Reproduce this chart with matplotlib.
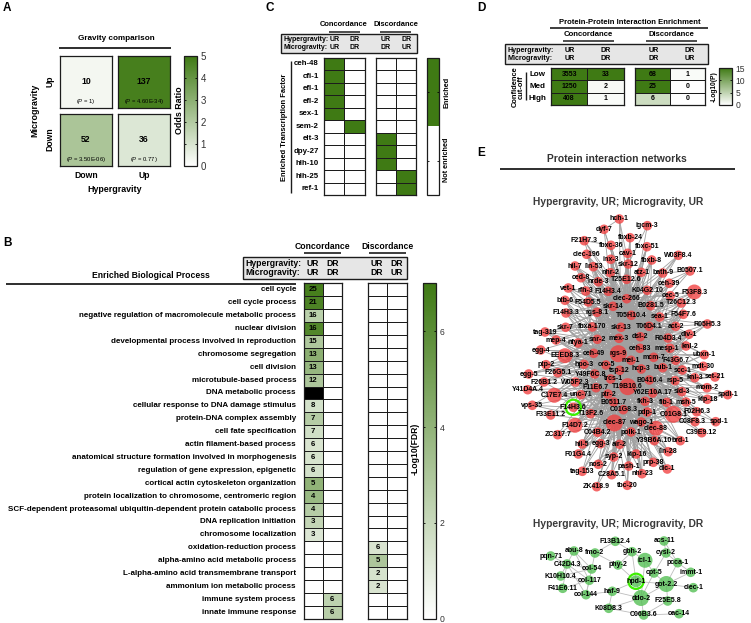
"""Gravity comparison figure: enrichment heatmaps and protein interaction networks."""

import matplotlib
matplotlib.use("Agg")
import matplotlib.pyplot as plt
from matplotlib.collections import LineCollection
from matplotlib.colors import LinearSegmentedColormap, ListedColormap, Normalize
import numpy as np

W, H = 751, 623

plt.rcParams['font.family'] = ['Liberation Sans', 'DejaVu Sans']
plt.rcParams['mathtext.fontset'] = 'custom'
plt.rcParams['mathtext.rm'] = 'Liberation Sans'
plt.rcParams['mathtext.it'] = 'Liberation Sans:italic'
plt.rcParams['mathtext.default'] = 'regular'

GREEN = '#3f7a14'
DARK = '#1c1c1c'

# panel A
a_counts = [['10', '137'], ['52', '36']]
a_pvals = [['1', '4.60E-34'], ['3.50E-06', '0.77']]
a_odds = [[0.3, 4.8], [2.2, 0.9]]

# panel B
b_terms = [
    'cell cycle', 'cell cycle process', 'negative regulation of macromolecule metabolic process',
    'nuclear division', 'developmental process involved in reproduction', 'chromosome segregation',
    'cell division', 'microtubule-based process', 'DNA metabolic process',
    'cellular response to DNA damage stimulus', 'protein-DNA complex assembly', 'cell fate specification',
    'actin filament-based process', 'anatomical structure formation involved in morphogenesis',
    'regulation of gene expression, epigenetic', 'cortical actin cytoskeleton organization',
    'protein localization to chromosome, centromeric region',
    'SCF-dependent proteasomal ubiquitin-dependent protein catabolic process',
    'DNA replication initiation', 'chromosome localization', 'oxidation-reduction process',
    'alpha-amino acid metabolic process', 'L-alpha-amino acid transmembrane transport',
    'ammonium ion metabolic process', 'immune system process', 'innate immune response',
]
b_counts_ur = ['25', '21', '16', '16', '15', '13', '13', '12', '', '8', '7', '7', '6', '6', '6', '5', '4', '4',
               '3', '3', '', '', '', '', '', '']
b_fdr_ur = [6.7, 6.5, 2.5, 6.3, 2.9, 4.2, 3.8, 3.0, np.nan, 1.6, 2.7, 1.7, 1.4, 1.5, 1.6, 4.0, 3.7, 2.7,
            2.2, 1.3, 0, 0, 0, 0, 0, 0]
b_counts_dr = [''] * 24 + ['6', '6']
b_fdr_dr = [0] * 24 + [2.4, 2.6]
b_counts_disc = [''] * 20 + ['6', '5', '2', '2', '', '']
b_fdr_disc = [0] * 20 + [1.4, 3.0, 1.5, 1.4, 0, 0]

# panel C
c_factors = ['ceh-48', 'cfi-1', 'efl-1', 'efl-2', 'sex-1', 'sem-2', 'elt-3', 'dpy-27', 'hlh-10', 'hlh-25', 'ref-1']
c_conc_ur = [1, 1, 1, 1, 1, 0, 0, 0, 0, 0, 0]
c_conc_dr = [0, 0, 0, 0, 0, 1, 0, 0, 0, 0, 0]
c_disc_ur = [0, 0, 0, 0, 0, 0, 1, 1, 1, 0, 0]
c_disc_dr = [0, 0, 0, 0, 0, 0, 0, 0, 0, 1, 1]

# panel D
d_levels = ['Low', 'Med', 'High']
d_conc_counts = [['3553', '33'], ['1250', '2'], ['408', '1']]
d_conc_logp = [[15, 15], [15, 0.7], [15, 0.5]]
d_disc_counts = [['68', '1'], ['25', '0'], ['6', '0']]
d_disc_logp = [[15, 0.5], [15, 0], [4, 0]]

# panel E, upregulated network, positions
red_names = ['hch-1', 'dyf-7', 'igcm-3', 'F21H7.3', 'fbxb-24', 'fbxc-36', 'fbxc-51', 'clec-196', 'cav-1', 'inx-3',
             'fbxb-8', 'W03F8.4', 'hil-7', 'lin-53', 'skr-12', 'nhr-2', 'atz-1', 'bath-9', 'B0507.1', 'ced-8',
             'nrde-3', 'T25E12.6', 'ceh-39', 'vet-1', 'rfh-3', 'F14H3.4', 'K04G2.10', 'F53F8.3', 'clec-266', 'cec-5',
             'btb-6', 'F54D5.5', 'skr-14', 'B0281.5', 'T26C12.3', 'F14H3.3', 'rgs-8.1', 'T05H10.4', 'sea-1', 'F54F7.6',
             'R05H5.3', 'skr-7', 'fbxa-170', 'skr-13', 'T06D4.1', 'act-2', 'tag-319', 'mep-4', 'nfya-1', 'snr-2',
             'mex-3', 'dsl-2', 'R04D3.4', 'div-1', 'egg-4', 'EEED8.3', 'ceh-49', 'rgs-9', 'ceh-83', 'mesp-1',
             'knl-2', 'ubxn-1', 'ptp-2', 'hpo-3', 'oro-5', 'mei-1', 'mcm-7', 'F43G6.7', 'mdt-30', 'egg-5',
             'F26G5.1', 'Y49F6C.8', 'tsp-12', 'hcp-3', 'bub-1', 'scc-1', 'knl-3', 'set-21', 'F26B1.2', 'W05F2.3',
             'trcs-1', 'B0416.4', 'rsp-5', 'mom-2', 'Y41D4A.4', 'C17E7.4', 'F11E6.7', 'unc-71', 'T19B10.6', 'ptr-2',
             'Y62E10A.17', 'sld-3', 'spdl-1', 'klp-18', 'vps-35', 'B0511.7', 'fkh-3', 'fib-1', 'msh-5', 'F14H3.6',
             'F33E11.2', 'T13F2.6', 'C01G8.3', 'pdp-1', 'C01G8.1', 'F02H6.3', 'C08F8.3', 'spd-1', 'F14D7.2', 'clec-87',
             'wago-1', 'clec-88', 'ZC317.7', 'C04B4.2', 'polk-1', 'C39E9.12', 'Y39B6A.10', 'brd-1', 'hil-5', 'egg-3',
             'air-2', 'lin-28', 'F01G4.4', 'syp-2', 'klp-16', 'nos-2', 'prp-38', 'dlc-1', 'tag-153', 'pash-1',
             'C28A5.1', 'nhr-23', 'ZK418.9', 'tbc-20']
red_x = [619.3, 604, 647.3, 584.3, 630, 611, 647, 586.7, 627.7, 610.7,
         651.7, 678.3, 575, 593.3, 628.3, 610.3, 641.3, 662.7, 690, 581,
         598.3, 626.7, 669.3, 568.3, 585.7, 608.3, 647.3, 694.3, 626.7, 670.3,
         565, 588.3, 613, 650.7, 681.3, 566, 597, 631.3, 659.7, 683.3,
         707.3, 565.7, 592.3, 621, 649, 675.7, 545, 556, 578, 597.3,
         619, 640.3, 668, 689, 540.7, 565, 593.7, 618.3, 640, 670,
         686, 704.3, 546, 584, 606, 631, 653.7, 675.7, 703.3, 528.7,
         557.7, 594.7, 619.7, 641.3, 662.7, 682.3, 694.7, 715, 544, 575.3,
         610.7, 649.3, 675, 707, 527.7, 554.3, 596, 581, 627.7, 608,
         652.7, 681.7, 727.7, 707.3, 532.3, 613.7, 645, 666.7, 686, 573.3,
         550.7, 590.7, 623.3, 647.3, 673.3, 696.7, 695, 715.7, 575, 614.3,
         641.3, 656, 557.7, 597.7, 631, 701.7, 654.3, 680.3, 582.3, 600.7,
         619.7, 668.3, 578.3, 613.7, 636.3, 598.3, 653.3, 667.3, 582.3, 628.7,
         611.7, 642, 596.7, 627.3]
red_y = [219, 229.3, 225.7, 240.7, 237.7, 245.3, 246.7, 254.3, 253.3, 259.3,
         260, 255.3, 266, 266.7, 264, 272.7, 272.3, 273, 271, 277.7,
         281.7, 279.3, 283.3, 288, 291, 291.3, 290.3, 292, 298.7, 295.7,
         300.3, 302, 306.3, 305.7, 303, 313, 312.3, 315.3, 317, 314.3,
         324, 327.3, 327, 327.3, 326.3, 326.3, 332, 340, 343, 339.3,
         338.3, 336.7, 338, 334.3, 350, 355.7, 353.3, 353.7, 348.3, 348.3,
         346, 354.7, 364.7, 364.3, 365, 360.3, 357.3, 360.3, 366.3, 374,
         372.7, 374, 370.3, 369, 367.7, 370, 377.7, 377, 382, 382,
         379, 380, 380.7, 387.7, 389.7, 395.3, 387.7, 394.7, 386.7, 394,
         393, 391.7, 394.7, 399.3, 405.3, 402, 401.3, 402.3, 402, 407.3,
         415, 413.7, 409.7, 412, 414.3, 411.7, 421.7, 421.7, 425.3, 423,
         422, 428.3, 434.7, 432.3, 432, 432.7, 440.7, 440.7, 444, 443.7,
         444.3, 451.7, 454, 457, 454, 464.3, 462.3, 469, 471.3, 466,
         474.7, 473.7, 486.7, 485.3]
red_large = {'F53F8.3': 7.5, 'EEED8.3': 7.5, 'rgs-9': 8.5, 'T19B10.6': 8.5, 'C17E7.4': 7.5, 'C01G8.1': 8.5,
             'F14D7.2': 7.5, 'clec-87': 8.5, 'clec-88': 7.5}
red_hubs = ['rgs-9', 'T19B10.6', 'clec-87', 'mcm-7', 'B0416.4', 'ceh-49', 'T05H10.4', 'tsp-12', 'C01G8.3', 'hcp-3',
            'skr-13', 'mex-3', 'wago-1', 'polk-1', 'ptr-2', 'oro-5', 'mei-1', 'B0511.7', 'trcs-1', 'dsl-2',
            'ceh-83', 'clec-266', 'skr-14', 'T06D4.1']
red_hub_reach = [130, 130, 85, 75, 70, 70, 95, 75, 70, 60, 85, 60, 55, 55, 60, 60, 70, 60, 60, 60,
                 60, 75, 55, 55]

# panel E, discordant network
green_names = ['F13B12.4', 'acs-11', 'abu-8', 'fmo-2', 'gbh-2', 'cysl-2', 'pqn-71', 'icl-1', 'C42D4.3', 'phy-2',
               'pcca-1', 'col-54', 'cpt-5', 'immt-1', 'K10H10.4', 'col-117', 'hpd-1', 'got-2.2', 'F41E6.11', 'clec-1',
               'haf-9', 'col-144', 'ddo-2', 'F25E5.8', 'K08D8.3', 'oac-14', 'C06B3.6']
green_x = [615.3, 664, 574, 595, 632, 666, 550.7, 645, 567, 618,
           677.7, 591.7, 654, 690.7, 560.7, 589.3, 636, 666.3, 562.7, 693.3,
           612.3, 586, 641, 667.7, 608.7, 679, 643.7]
green_y = [541.3, 541, 551, 553, 551.7, 553, 556, 560.3, 564, 565,
           562.7, 569, 573, 572.3, 576, 580.3, 581.3, 584, 588.3, 587.7,
           591.3, 594.7, 598, 601, 608.3, 613.7, 615]
green_large = {'icl-1': 7.5, 'got-2.2': 8, 'ddo-2': 8, 'hpd-1': 6}
green_edges = [('pqn-71', 'C42D4.3'), ('abu-8', 'C42D4.3'), ('abu-8', 'col-54'), ('abu-8', 'col-117'),
               ('C42D4.3', 'col-54'), ('C42D4.3', 'col-117'), ('K10H10.4', 'C42D4.3'), ('K10H10.4', 'col-117'),
               ('K10H10.4', 'col-54'), ('F41E6.11', 'col-117'), ('F41E6.11', 'C42D4.3'), ('col-144', 'col-117'),
               ('col-144', 'C42D4.3'), ('col-144', 'col-54'), ('col-54', 'fmo-2'), ('fmo-2', 'F13B12.4'),
               ('F13B12.4', 'gbh-2'), ('gbh-2', 'icl-1'), ('gbh-2', 'hpd-1'), ('phy-2', 'hpd-1'), ('phy-2', 'fmo-2'),
               ('phy-2', 'gbh-2'), ('icl-1', 'cpt-5'), ('cysl-2', 'cpt-5'), ('cysl-2', 'pcca-1'), ('acs-11', 'pcca-1'),
               ('acs-11', 'cysl-2'), ('pcca-1', 'got-2.2'), ('immt-1', 'got-2.2'), ('immt-1', 'pcca-1'),
               ('cpt-5', 'got-2.2'), ('hpd-1', 'ddo-2'), ('hpd-1', 'got-2.2'), ('got-2.2', 'ddo-2'), ('haf-9', 'hpd-1'),
               ('haf-9', 'col-144'), ('haf-9', 'ddo-2'), ('K08D8.3', 'ddo-2'), ('ddo-2', 'C06B3.6'),
               ('C06B3.6', 'F25E5.8'), ('C06B3.6', 'oac-14'), ('F25E5.8', 'got-2.2'), ('clec-1', 'got-2.2'),
               ('ddo-2', 'icl-1'), ('K08D8.3', 'haf-9'), ('ddo-2', 'cpt-5'), ('K08D8.3', 'C06B3.6')]

# small sideways shifts so neighbouring gene names do not run into each other
label_shift = {'mesp-1': -3, 'knl-2': 3.5, 'C08F8.3': -3, 'spd-1': 3.5, 'Y49F6C.8': -4, 'trcs-1': 3}

fig = plt.figure(figsize=(W / 100, H / 100), dpi=100)
cmap = LinearSegmentedColormap.from_list('wg', ['white', GREEN])
cmap.set_bad('black')


def px_axes(x0, y0, x1, y1):
    """Axes placed by picture pixels."""
    return fig.add_axes([x0 / W, 1 - y1 / H, (x1 - x0) / W, (y1 - y0) / H])


page = px_axes(0, 0, W, H)
page.set_xlim(0, W)
page.set_ylim(H, 0)
page.axis('off')


def label(x, y, s, size=6, weight='bold', ha='center', va='center', rot=0, color='black'):
    page.text(x, y, s, fontsize=size, fontweight=weight, ha=ha, va=va, rotation=rot, color=color)


def rule(x0, y0, x1, y1, lw=1.2, color=DARK):
    page.plot([x0, x1], [y0, y1], color=color, lw=lw, solid_capstyle='butt')


def heat_block(box, values, texts=None, cm=cmap, vmax=7, size=5.5):
    """One block of cells with black grid lines."""
    ax = px_axes(*box)
    values = np.ma.masked_invalid(np.array(values, dtype=float))
    ax.pcolormesh(values, cmap=cm, norm=Normalize(0, vmax), edgecolors=DARK, linewidth=0.6)
    ax.set_ylim(values.shape[0], 0)
    ax.set_xticks([])
    ax.set_yticks([])
    for s in ax.spines.values():
        s.set_linewidth(0.9)
        s.set_color(DARK)
    if texts is not None:
        for r, row in enumerate(texts):
            for c, t in enumerate(row):
                ax.text(c + 0.5, r + 0.5, t, ha='center', va='center', fontsize=size, fontweight='bold')
    return ax


def color_bar(box, cm, vmax, ticks, size=6.5, labelled=True):
    ax = px_axes(*box)
    sm = plt.cm.ScalarMappable(norm=Normalize(0, vmax), cmap=cm)
    cb = fig.colorbar(sm, cax=ax, ticks=ticks)
    cb.outline.set_linewidth(0.9)
    cb.outline.set_edgecolor(DARK)
    ax.tick_params(axis='y', direction='in', left=True, right=True, length=1.5, width=0.6, pad=2.5,
                   labelsize=size, labelcolor='#333333', labelright=labelled)
    return ax


def header_box(x0, y0, x1, y1, left, xs, size=6):
    """Grey box with the hyper/microgravity direction rows."""
    page.add_patch(plt.Rectangle((x0, y0), x1 - x0, y1 - y0, fc='#e6e6e6', ec=DARK, lw=1.0))
    y_a = y0 + (y1 - y0) * 0.30
    y_b = y0 + (y1 - y0) * 0.72
    label(left, y_a, 'Hypergravity:', size, ha='left')
    label(left, y_b, 'Microgravity:', size, ha='left')
    for x, top, bottom in zip(xs, ['UR', 'DR', 'UR', 'DR'], ['UR', 'DR', 'DR', 'UR']):
        label(x, y_a, top, size, weight='semibold')
        label(x, y_b, bottom, size, weight='semibold')


def network(names, xs, ys, edges, large, node_color, alpha, focus, edge_lw, edge_color):
    """Nodes and edges in picture pixels on the page axes."""
    pos = {n: (x, y) for n, x, y in zip(names, xs, ys)}
    segs = [(pos[a], pos[b]) for a, b in edges]
    page.add_collection(LineCollection(segs, colors=edge_color, linewidths=edge_lw, zorder=1))
    radius = np.array([large.get(n, 4.8) for n in names])
    page.scatter(xs, ys, s=(radius * 1.44) ** 2, color=node_color, alpha=alpha, lw=0, zorder=2)
    fx, fy = pos[focus]
    page.scatter([fx], [fy], s=120, facecolors='none', edgecolors='#3cf000', lw=1.6, zorder=3)
    for n, x, y in zip(names, xs, ys):
        page.text(x + label_shift.get(n, 0), y, n, fontsize=5.0, fontweight='bold', ha='center', va='center', zorder=4)


# panel letters
for letter, lx, ly in [('A', 7, 8), ('B', 7, 243), ('C', 270, 8), ('D', 481, 8), ('E', 481, 153)]:
    label(lx, ly, letter, 8.5)

# panel A
label(116, 39, 'Gravity comparison', 5.9)
rule(59, 48, 171, 48, 1.3)
a_cells = [(60, 56, 112, 108), (118, 56, 170, 108), (60, 114, 112, 166), (118, 114, 170, 166)]
for i, box in enumerate(a_cells):
    r, c = i // 2, i % 2
    ax = heat_block(box, [[a_odds[r][c]]], cm=cmap, vmax=5)
    ax.text(0.5, 0.5, a_counts[r][c], ha='center', va='center', fontsize=6.2, fontweight='bold')
    ax.text(0.5, 0.88, r'($\mathit{P}$ = %s)' % a_pvals[r][c], ha='center', va='center', fontsize=4.2)
color_bar((184, 56, 197, 166), cmap, 5, [0, 1, 2, 3, 4, 5], size=7)
label(179, 110, 'Odds Ratio', 6.4, rot=90)
label(86, 176, 'Down', 6.2)
label(144, 176, 'Up', 6.2)
label(115, 190, 'Hypergravity', 6.4)
label(50, 81, 'Up', 6.2, rot=90)
label(50, 139, 'Down', 6.2, rot=90)
label(35, 110, 'Microgravity', 6.4, rot=90)

# panel B
label(322, 246.5, 'Concordance', 6.2)
rule(304, 253, 341, 253, 1.2)
label(387, 246.5, 'Discordance', 6.2)
rule(369, 253, 406, 253, 1.2)
header_box(242.5, 257, 406.5, 279, 245.5, [313, 333, 377, 397], size=6.2)
label(151, 276, 'Enriched Biological Process', 6.2)
rule(6, 283.7, 296, 283.7, 1.3)
b_left = np.array([b_fdr_ur, b_fdr_dr]).T
b_left_text = list(zip(b_counts_ur, b_counts_dr))
heat_block((303.5, 283.3, 342, 618.7), b_left, b_left_text, vmax=7, size=5.6)
b_right = np.array([b_fdr_disc, [0] * 26]).T
b_right_text = [(t, '') for t in b_counts_disc]
heat_block((368, 283.3, 406.5, 618.7), b_right, b_right_text, vmax=7, size=5.6)
for i, term in enumerate(b_terms):
    label(296, 283.3 + (i + 0.5) * 12.9, term, 5.8, ha='right')
color_bar((422.7, 283.3, 436, 618.7), cmap, 7, [0, 2, 4, 6], size=6.2)
label(415, 449, '-Log10(FDR)', 6.2, rot=90)

# panel C
label(343.5, 25, 'Concordance', 5.4)
rule(329, 31.5, 360, 31.5, 1.1)
label(396, 25, 'Discordance', 5.4)
rule(380, 31.5, 411, 31.5, 1.1)
header_box(281, 34, 416.5, 53, 283, [335, 355, 386, 407], size=5.0)
label(284, 127, 'Enriched Transcription Factor', 5.4, rot=90, weight='semibold')
rule(290.5, 61, 290.5, 193, 1.0)
two_tone = ListedColormap(['white', GREEN])
heat_block((324, 57.7, 364.5, 195), np.array([c_conc_ur, c_conc_dr]).T, cm=two_tone, vmax=1)
heat_block((375.5, 57.7, 416, 195), np.array([c_disc_ur, c_disc_dr]).T, cm=two_tone, vmax=1)
for i, factor in enumerate(c_factors):
    label(319, 57.7 + (i + 0.5) * 137.3 / 11, factor, 5.7, ha='right')
color_bar((427, 57.7, 438.7, 195), two_tone, 1, [0.25, 0.75], labelled=False)
label(447, 92, 'Enriched', 5.2, rot=90)
label(447, 160, 'Not enriched', 5.2, rot=90)

# panel D
label(630, 22, 'Protein-Protein Interaction Enrichment', 5.5)
rule(550, 28, 708, 28, 1.2)
label(588, 34.5, 'Concordance', 5.6)
rule(563, 41, 614, 41, 1.1)
label(671, 35, 'Discordance', 5.5)
rule(646, 41, 697, 41, 1.1)
header_box(505, 44, 708, 64, 507.5, [570, 606, 654, 690], size=5.1)
heat_block((551, 68, 623.5, 105), d_conc_logp, d_conc_counts, vmax=15, size=5)
heat_block((635, 68, 705.5, 105), d_disc_logp, d_disc_counts, vmax=15, size=5)
label(515, 87, 'Confidence', 5.4, rot=90, weight='semibold')
label(521.5, 87, 'cut-off', 5.4, rot=90, weight='semibold')
rule(526, 72, 526, 100, 1.0)
for i, level in enumerate(d_levels):
    label(546, 75 + i * 11.7, level, 5.8, ha='right')
color_bar((719, 68, 732, 105), cmap, 15, [0, 5, 10, 15], size=6.2)
label(714, 87, '-Log10(P)', 4.8, rot=90)

# panel E
label(617, 159, 'Protein interaction networks', 7.4, weight='semibold', color='#333333')
rule(500, 169, 735, 169, 1.3)
label(617.7, 201.7, 'Hypergravity, UR; Microgravity, UR', 7.4, weight='semibold', color='#3a3a3a')
label(617.7, 523.7, 'Hypergravity, UR; Microgravity, DR', 7.4, weight='semibold', color='#3a3a3a')

# the hairball cannot be read edge by edge, so spokes run from the visible hubs
red_pos = {n: (x, y) for n, x, y in zip(red_names, red_x, red_y)}
red_edges = []
for hub, reach in zip(red_hubs, red_hub_reach):
    for n in red_names:
        if n != hub and np.hypot(red_pos[n][0] - red_pos[hub][0], red_pos[n][1] - red_pos[hub][1]) < reach:
            red_edges.append((hub, n))
red_edges += [('hch-1', 'skr-12'), ('hch-1', 'T05H10.4'), ('hch-1', 'skr-13'), ('fbxc-36', 'skr-13'), ('cav-1', 'T05H10.4'),
              ('fbxb-24', 'T05H10.4'), ('fbxc-51', 'T05H10.4'), ('igcm-3', 'skr-12'), ('dyf-7', 'hch-1'), ('fbxb-8', 'T06D4.1'),
              ('W03F8.4', 'bath-9'), ('B0507.1', 'bath-9'), ('clec-196', 'skr-14'), ('hil-7', 'skr-14'), ('F21H7.3', 'fbxc-36'),
              ('tag-319', 'snr-2'), ('egg-4', 'ceh-49'), ('egg-5', 'hpo-3'), ('Y41D4A.4', 'unc-71'), ('vps-35', 'F14H3.6'),
              ('spdl-1', 'klp-18'), ('set-21', 'knl-3'), ('spd-1', 'C08F8.3'), ('tbc-20', 'pash-1'), ('ZK418.9', 'syp-2'),
              ('tag-153', 'air-2'), ('dlc-1', 'prp-38'), ('R05H5.3', 'act-2'), ('F53F8.3', 'T26C12.3'), ('ubxn-1', 'knl-2')]
network(red_names, red_x, red_y, red_edges, red_large, '#f23f3f', 0.78, 'F14H3.6', 0.6, '#a0a0a0')
network(green_names, green_x, green_y, green_edges, green_large, '#55c055', 0.8, 'hpd-1', 0.6, '#bdbdbd')

fig.savefig('out.png', dpi=100)
